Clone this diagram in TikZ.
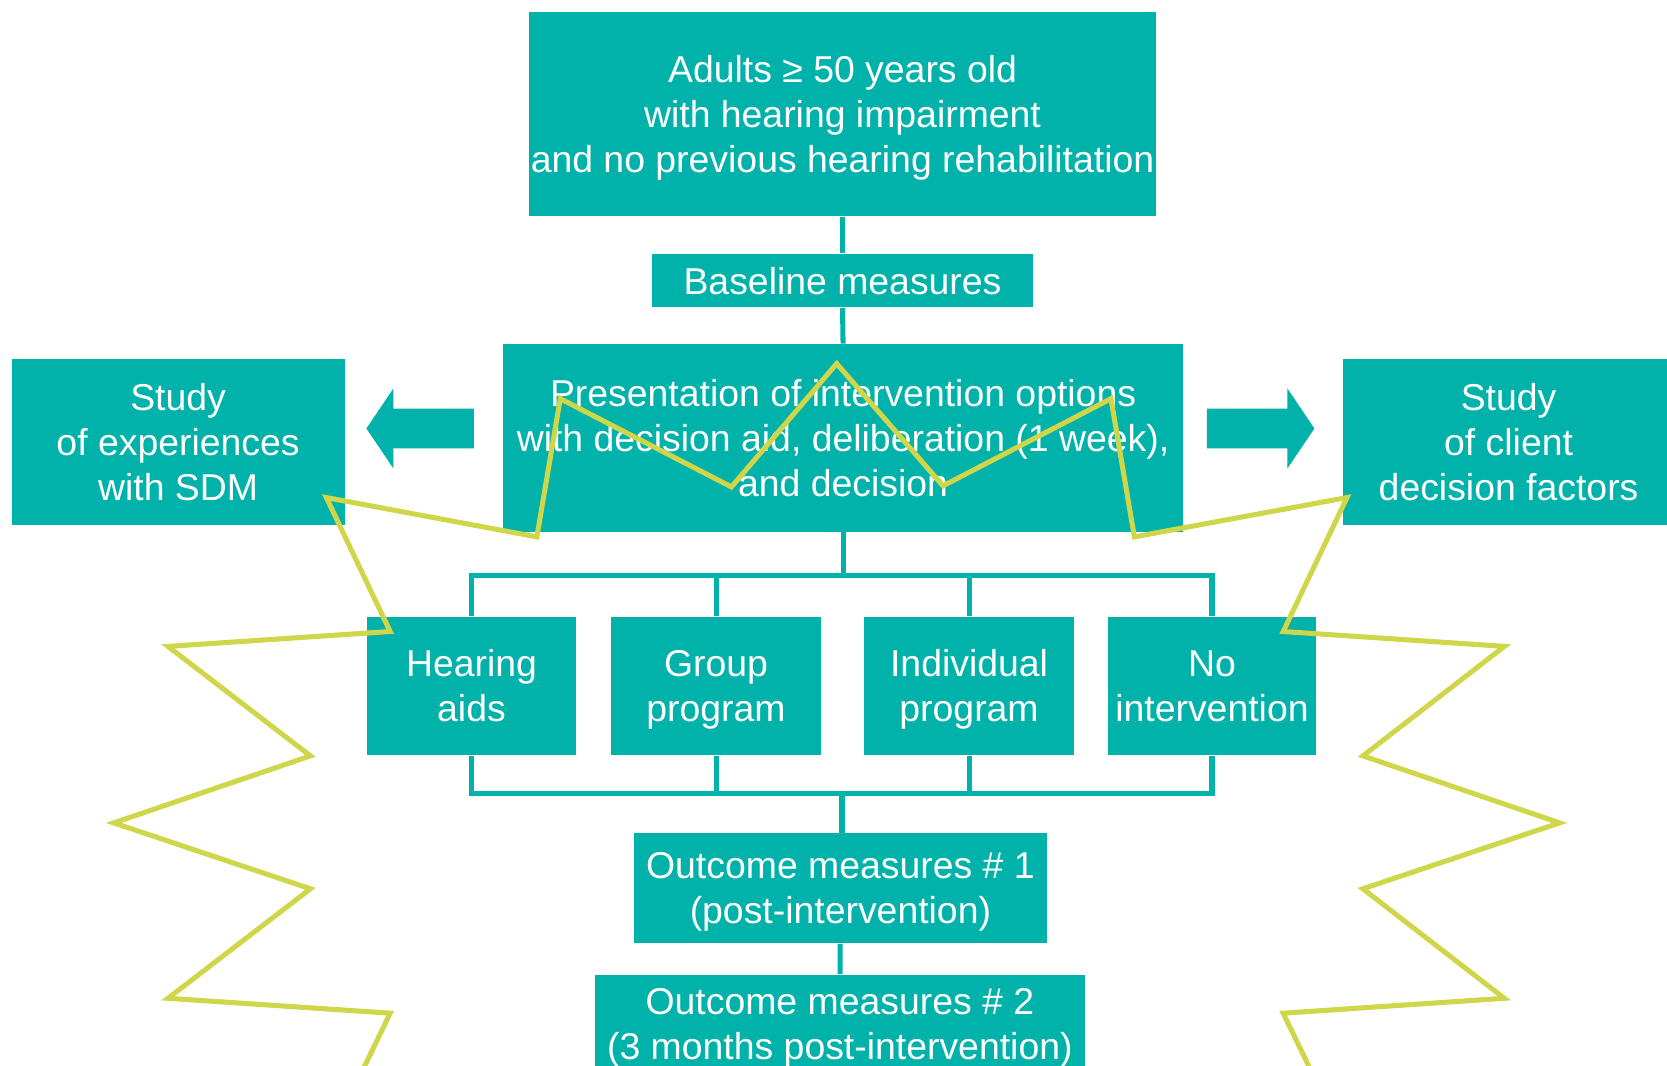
\documentclass[tikz,border=0pt]{standalone}
\usepackage{fontspec}
\setmainfont{Liberation Sans}
\usetikzlibrary{shapes.arrows}
\definecolor{flowteal}{RGB}{0,178,169}
\definecolor{burstgreen}{RGB}{207,214,74}

\begin{document}
\begin{tikzpicture}[
    x=0.01cm, y=-0.01cm,
    box/.style={rectangle, fill=flowteal, text=white, inner sep=0pt, align=center,
                text depth=0pt, font=\fontsize{10}{12}\selectfont},
    link/.style={draw=flowteal, line width=1.35pt},
    fatarrow/.style={single arrow, fill=flowteal, inner xsep=0pt, inner ysep=0.18cm, minimum height=1.01cm,
                     minimum width=0.74cm, single arrow head extend=0.19cm, single arrow tip angle=112},
    burst/.style={draw=burstgreen, line width=1.35pt}
]
\useasboundingbox (0,0) rectangle (1568,1002);

\node[box, minimum width=5.89cm, minimum height=1.92cm] (adults) at (792.5,107) {Adults ≥ 50 years old\\with hearing impairment\\and no previous hearing rehabilitation};
\node[box, minimum width=3.59cm, minimum height=0.50cm] (baseline) at (792.5,264) {Baseline measures};
\node[box, minimum width=6.40cm, minimum height=1.76cm] (options) at (793,412) {Presentation of intervention options\\with decision aid, deliberation (1 week),\\and decision};
\node[box, minimum width=3.13cm, minimum height=1.56cm] (sdm) at (167.5,416) {Study\\of experiences\\with SDM};
\node[box, minimum width=3.12cm, minimum height=1.56cm] (client) at (1419,416) {Study\\of client\\decision factors};

\node[box, minimum width=1.97cm, minimum height=1.30cm] (aids) at (443.5,645) {Hearing\\aids};
\node[box, minimum width=1.97cm, minimum height=1.30cm] (group) at (673.5,645) {Group\\program};
\node[box, minimum width=1.97cm, minimum height=1.30cm] (indiv) at (911.5,645) {Individual\\program};
\node[box, minimum width=1.96cm, minimum height=1.30cm] (none) at (1140,645) {No\\intervention};

\node[box, minimum width=3.89cm, minimum height=1.03cm] (out1) at (790.5,835.5) {Outcome measures \# 1\\(post-intervention)};
\node[box, minimum width=4.60cm, minimum height=0.92cm] (out2) at (790,963) {Outcome measures \# 2\\(3 months post-intervention)};

% block arrows towards the two side studies
\node[fatarrow, shape border rotate=180] (tosdm) at (401.5,403) {};
\node[fatarrow] (toclient) at (1179.5,403) {};

\draw[link] (adults) -- (baseline);
\draw[link] (baseline.south) -- (options.north);

% fork to the four options and join below them
\coordinate (fork) at (793,541);
\coordinate (join) at (792,746);
\draw[link] (options.south) -- (fork);
\foreach \opt in {aids,group,indiv,none} {
    \draw[link] (\opt.north) |- (fork);
    \draw[link] (\opt.south) |- (join);
}
\draw[link] (join) -- (join |- out1.north);
\draw[link] (out1) -- (out2);

% zigzag outline laid over the chart
\draw[burst] (325,1040) -- (367,953) -- (158,939) -- (292,836) -- (107,774) -- (292,711)
    -- (158,608) -- (367,594) -- (307,468) -- (505,505) -- (527,375) -- (688,458)
    -- (787,342) -- (887,457) -- (1045,375) -- (1067,505) -- (1267,468) -- (1207,594)
    -- (1415,608) -- (1282,711) -- (1467,774) -- (1282,836) -- (1415,939) -- (1207,953)
    -- (1249,1040);
\end{tikzpicture}
\end{document}
